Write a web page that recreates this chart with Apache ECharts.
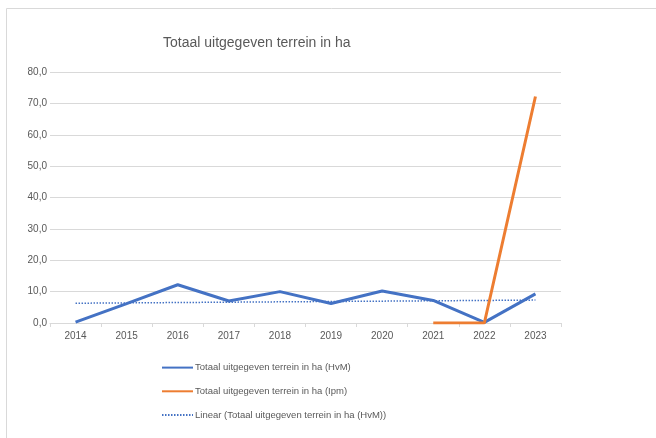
<!DOCTYPE html>
<html><head><meta charset="utf-8">
<script src="https://cdn.jsdelivr.net/npm/echarts@6/dist/echarts.min.js"></script>
<style>html,body{margin:0;padding:0;background:#fff;}#c{width:656px;height:438px;}</style>
</head><body><div id="c"></div>
<script>
const years = ['2014','2015','2016','2017','2018','2019','2020','2021','2022','2023'];
const hvm = [0.3, 6.2, 12.2, 7.0, 10.0, 6.2, 10.2, 7.2, 0.2, 9.3];
const ipm = [null, null, null, null, null, null, null, 0.0, 0.0, 72.2];
const trend = [6.3, null, null, null, null, null, null, null, null, 7.3];
const yTicks = [0, 10, 20, 30, 40, 50, 60, 70, 80];
const names = ['Totaal uitgegeven terrein in ha (HvM)', 'Totaal uitgegeven terrein in ha (Ipm)', 'Linear (Totaal uitgegeven terrein in ha (HvM))'];

const chart = echarts.init(document.getElementById('c'));
const font = 'Liberation Sans, Arial, sans-serif';
chart.setOption({
  animation: false,
  textStyle: {fontFamily: font},
  graphic: [{type:'rect', shape:{x:6.5,y:8.5,width:700,height:500}, style:{fill:'none', stroke:'#d9d9d9', lineWidth:1}}],
  title: {text: 'Totaal uitgegeven terrein in ha', left: 158, top: 31,
    textStyle: {fontSize: 14, fontWeight: 'normal', color: '#595959', fontFamily: font}},
  grid: {left: 50, right: 95, top: 72, bottom: 115},
  legend: {orient: 'vertical', left: 156, top: 357, itemWidth: 31, itemHeight: 14, itemGap: 12.5,
    itemStyle: {opacity: 0},
    textStyle: {fontSize: 9.5, color: '#595959', fontFamily: font, padding: [0, 0, 0, -3]},
    data: names},
  xAxis: {type: 'category', data: years, boundaryGap: true,
    axisLine: {lineStyle: {color: '#d9d9d9'}},
    axisTick: {show: true, length: 4, lineStyle: {color: '#d9d9d9'}},
    axisLabel: {color: '#595959', fontSize: 10, margin: 8}},
  yAxis: {type: 'value', min: yTicks[0], max: yTicks[yTicks.length-1], interval: 10,
    axisLine: {show: false}, axisTick: {show: false},
    splitLine: {lineStyle: {color: '#d9d9d9'}},
    axisLabel: {color: '#595959', fontSize: 10, margin: 3, formatter: v => v.toFixed(1).replace('.', ',')}},
  series: [
    {name: names[0], type: 'line', data: hvm, symbol: 'none', lineStyle: {color: '#4472C4', width: 3}, itemStyle: {color: '#4472C4'}, z: 3},
    {name: names[1], type: 'line', data: ipm, symbol: 'none', lineStyle: {color: '#ED7D31', width: 3}, itemStyle: {color: '#ED7D31'}, z: 4},
    {name: names[2], type: 'line', data: trend, symbol: 'none', connectNulls: true, lineStyle: {color: '#4472C4', width: 1.5, type: [1.5, 1.5]}, itemStyle: {color: '#4472C4'}, z: 2}
  ]
});
</script></body></html>
